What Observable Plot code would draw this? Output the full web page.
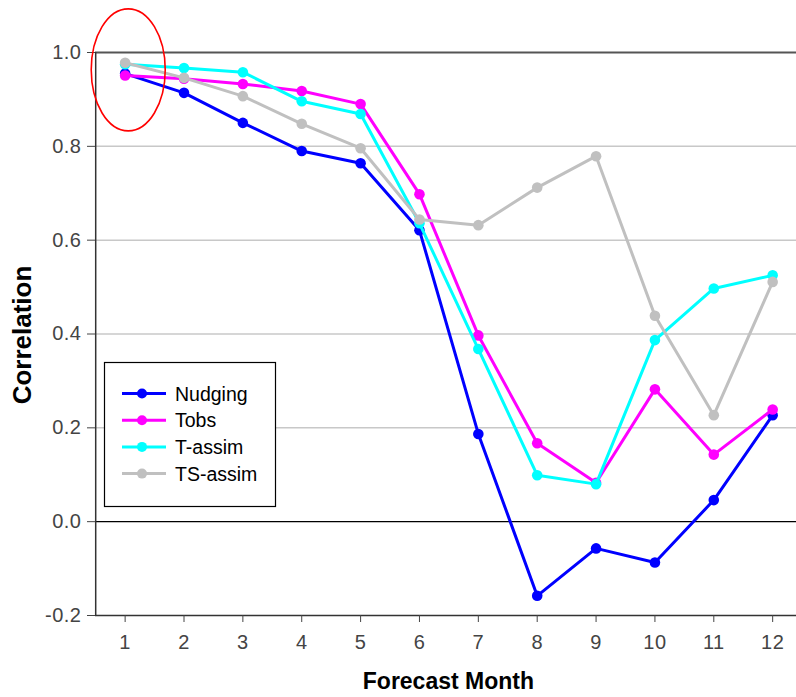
<!DOCTYPE html>
<html>
<head>
<meta charset="utf-8">
<script src="https://cdn.jsdelivr.net/npm/d3@7"></script>
<script src="https://cdn.jsdelivr.net/npm/@observablehq/plot@0.6"></script>
<style>
  html, body { margin: 0; padding: 0; background: #fff; }
  #chart { width: 796px; height: 697px; }
</style>
</head>
<body>
<div id="chart"></div>
<script>
const months = [1, 2, 3, 4, 5, 6, 7, 8, 9, 10, 11, 12];
const seriesNames = ["Nudging", "Tobs", "T-assim", "TS-assim"];
const seriesColors = ["#0000ff", "#ff00ff", "#00ffff", "#c0c0c0"];
const nudging = [0.955, 0.914, 0.850, 0.790, 0.764, 0.621, 0.187, -0.158, -0.057, -0.087, 0.046, 0.227];
const tobs    = [0.951, 0.944, 0.933, 0.918, 0.890, 0.698, 0.397, 0.167, 0.083, 0.282, 0.143, 0.239];
const tAssim  = [0.975, 0.967, 0.958, 0.896, 0.869, 0.636, 0.368, 0.099, 0.080, 0.387, 0.497, 0.525];
const tsAssim = [0.978, 0.946, 0.907, 0.848, 0.796, 0.644, 0.632, 0.712, 0.779, 0.439, 0.227, 0.511];
const yTicks = [-0.2, 0.0, 0.2, 0.4, 0.6, 0.8, 1.0];
const gridTicks = [0.2, 0.4, 0.6, 0.8];
const xLabel = "Forecast Month";
const yLabel = "Correlation";

const seriesValues = [nudging, tobs, tAssim, tsAssim];
const rows = seriesNames.map((name, i) =>
  months.map((m, j) => ({month: m, value: seriesValues[i][j], series: name}))
);

const seriesMarks = rows.flatMap((data, i) => [
  Plot.line(data, {x: "month", y: "value", stroke: seriesColors[i], strokeWidth: 3}),
  Plot.dot(data, {x: "month", y: "value", fill: seriesColors[i], r: 5.3, stroke: "none"})
]);

const chart = Plot.plot({
  width: 796,
  height: 697,
  marginTop: 52,
  marginBottom: 82,
  marginLeft: 95,
  marginRight: 0,
  x: {domain: [0.5, 12.5], range: [95.2, 801.6]},
  y: {domain: [-0.2, 1.0], range: [615, 52]},
  style: {fontFamily: "'Liberation Sans', Arial, sans-serif", fontSize: "19px", color: "#444", background: "#fff"},
  marks: [
    Plot.ruleY(gridTicks, {stroke: "#c8c8c8", strokeWidth: 1.5}),
    Plot.ruleY([1.0], {stroke: "#555", strokeWidth: 2}),
    Plot.ruleY([0], {stroke: "#000", strokeWidth: 1.3}),
    Plot.ruleY([-0.2], {stroke: "#333", strokeWidth: 1.5}),
    Plot.ruleX([0.5], {stroke: "#333", strokeWidth: 1.5}),
    Plot.axisY({ticks: yTicks, tickSize: 8, tickPadding: 6, tickFormat: d => d.toFixed(1), label: null, color: "#444"}),
    Plot.axisX({ticks: months, tickSize: 7, tickPadding: 12, tickFormat: d => String(d), label: null, color: "#444"}),
    ...seriesMarks
  ]
});

document.getElementById("chart").appendChild(chart);

const svg = d3.select(chart);
const xs = chart.scale("x");
const ys = chart.scale("y");

// Enlarge tick labels to match reference
svg.selectAll('[aria-label$="tick label"]')
  .attr("font-size", null)
  .style("font-size", "20px")
  .style("letter-spacing", "0.5px");
svg.selectAll('[aria-label$="tick label"] text')
  .style("font-size", "20px");

// Axis titles
svg.append("text")
  .attr("x", (95.2 + 801.6) / 2)
  .attr("y", 689)
  .attr("text-anchor", "middle")
  .style("font", "bold 23px 'Liberation Sans', Arial, sans-serif")
  .attr("fill", "#000")
  .text(xLabel);

svg.append("text")
  .attr("transform", "translate(31,335) rotate(-90)")
  .attr("text-anchor", "middle")
  .style("font", "bold 26px 'Liberation Sans', Arial, sans-serif")
  .attr("fill", "#000")
  .text(yLabel);

// Legend
const lg = svg.append("g");
lg.append("rect")
  .attr("x", 104.5).attr("y", 362.5).attr("width", 171).attr("height", 144)
  .attr("fill", "#fff").attr("stroke", "#000").attr("stroke-width", 1.2);
seriesNames.forEach((name, i) => {
  const y = 393.5 + i * 26.7;
  lg.append("line").attr("x1", 122).attr("x2", 166).attr("y1", y).attr("y2", y)
    .attr("stroke", seriesColors[i]).attr("stroke-width", 3);
  lg.append("circle").attr("cx", 142).attr("cy", y).attr("r", 5).attr("fill", seriesColors[i]);
  lg.append("text").attr("x", 175).attr("y", y + 7)
    .attr("text-anchor", "start")
    .style("font", "19.5px 'Liberation Sans', Arial, sans-serif")
    .attr("fill", "#000")
    .text(name);
});

// Red ellipse highlighting month 1
svg.append("ellipse")
  .attr("cx", xs.apply(1) + 3.6)
  .attr("cy", ys.apply(0.962))
  .attr("rx", 37)
  .attr("ry", 61)
  .attr("fill", "none")
  .attr("stroke", "#ff0000")
  .attr("stroke-width", 1.6);
</script>
</body>
</html>
